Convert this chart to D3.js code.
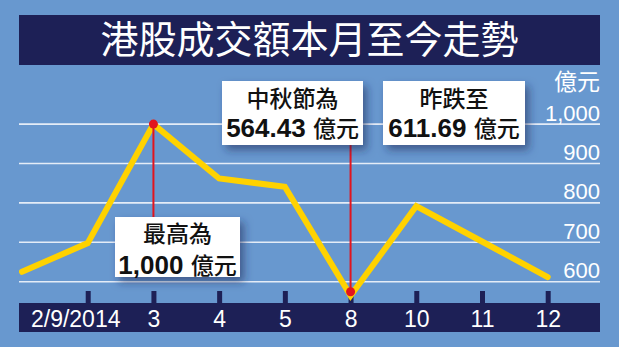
<!DOCTYPE html>
<html>
<head>
<meta charset="utf-8">
<script src="https://cdn.jsdelivr.net/npm/d3@7"></script>
<style>
  html, body { margin: 0; padding: 0; background: #6898cf; }
  svg { display: block; }
</style>
</head>
<body>
<svg id="chart" width="619" height="347"></svg>
<script>
// ---- data ----
const title = "港股成交額本月至今走勢";
const unitLabel = "億元";
const dates = ["1/9", "2/9/2014", "3", "4", "5", "8", "10", "11", "12"];
const tickLabels = ["", "2/9/2014", "3", "4", "5", "8", "10", "11", "12"];
const turnover = [625, 698, 1000, 862, 841, 564.43, 792, 702, 611.69];
const yTicks = [600, 700, 800, 900, 1000];
const yTickLabels = ["600", "700", "800", "900", "1,000"];
const noteTitles = ["最高為", "中秋節為", "昨跌至"];
const noteValues = ["1,000", "564.43", "611.69"];
const stemDates = ["3", "8"];

// ---- layout ----
const W = 619, H = 347;
const left = 19, right = 600;
const cjk = "'Noto Sans CJK TC', 'Noto Sans CJK SC', sans-serif";
const latin = "'Liberation Sans', Arial, sans-serif";
const navy = "#1d2056";
const svg = d3.select("#chart");

const x = d3.scalePoint().domain(dates).range([22, 547.7]).padding(0);
const y = d3.scaleLinear().domain([600, 1000]).range([281.7, 124.1]);

const defs = svg.append("defs");
defs.append("clipPath").attr("id", "plotClip")
  .append("rect").attr("x", left).attr("y", 0).attr("width", right - left).attr("height", H);
const f = defs.append("filter").attr("id", "shadow")
  .attr("x", "-20%").attr("y", "-30%").attr("width", "150%").attr("height", "170%");
f.append("feDropShadow").attr("dx", 4).attr("dy", 5).attr("stdDeviation", 4)
  .attr("flood-color", "#1b2c55").attr("flood-opacity", 0.55);

// background
svg.append("rect").attr("width", W).attr("height", H).attr("fill", "#6898cf");

// title bar
svg.append("rect").attr("x", left).attr("y", 15).attr("width", right - left).attr("height", 50)
  .attr("fill", navy);
svg.append("text").attr("x", (left + right) / 2).attr("y", 53)
  .attr("text-anchor", "middle").attr("fill", "#fff")
  .style("font-family", cjk).style("font-size", "38px")
  .text(title);

// gridlines
svg.append("g").selectAll("line").data(yTicks).join("line")
  .attr("x1", left).attr("x2", right)
  .attr("y1", d => y(d)).attr("y2", d => y(d))
  .attr("stroke", "#e4ecf7").attr("stroke-width", 1.6);

// y axis labels
const yAxis = d3.axisLeft(y).tickValues(yTicks)
  .tickFormat((d, i) => yTickLabels[i]).tickSize(0).tickPadding(0);
const gy = svg.append("g").attr("transform", `translate(${right},0)`).call(yAxis);
gy.select(".domain").remove();
gy.selectAll("text").attr("fill", "#fff").attr("dy", "-4px")
  .style("font-family", latin).style("font-size", "22px");
svg.append("text").attr("x", right).attr("y", 90).attr("text-anchor", "end")
  .attr("fill", "#fff").style("font-family", cjk).style("font-size", "23px").text(unitLabel);

// bottom bar
svg.append("rect").attr("x", left).attr("y", 303).attr("width", right - left).attr("height", 29)
  .attr("fill", navy);
// tick marks
const xTickAxis = d3.axisTop(x).tickValues(dates.slice(1)).tickSize(12).tickFormat("");
const gxt = svg.append("g").attr("transform", "translate(0,303)").call(xTickAxis);
gxt.select(".domain").remove();
gxt.selectAll("line").attr("stroke", navy).attr("stroke-width", 5);
// tick labels
const xAxis = d3.axisBottom(x).tickValues(dates.slice(1))
  .tickFormat(d => tickLabels[dates.indexOf(d)]).tickSize(0).tickPadding(0);
const gx = svg.append("g").attr("transform", "translate(0,303)").call(xAxis);
gx.select(".domain").remove();
gx.selectAll("text").attr("fill", "#fff").attr("dy", null).attr("y", 23.5)
  .style("font-family", latin).style("font-size", "23px")
  .attr("dx", (d, i) => i === 0 ? -12.5 : 0);

// line
const line = d3.line().x((d, i) => x(dates[i])).y(d => y(d));
svg.append("path").datum(turnover)
  .attr("clip-path", "url(#plotClip)")
  .attr("d", line).attr("fill", "none")
  .attr("stroke", "#ffd200").attr("stroke-width", 6)
  .attr("stroke-linejoin", "miter").attr("stroke-linecap", "round");

// annotation boxes
const boxes = [
  { x: 115, y: 217, w: 125, h: 60 },
  { x: 222, y: 81, w: 141, h: 64 },
  { x: 383, y: 81, w: 142, h: 64 }
];

// red stems + dots
const stemEnds = [boxes[0].y, boxes[1].y + boxes[1].h];
stemDates.forEach((d, i) => {
  const v = turnover[dates.indexOf(d)];
  svg.append("line").attr("x1", x(d)).attr("x2", x(d))
    .attr("y1", y(v)).attr("y2", stemEnds[i])
    .attr("stroke", "#e2141e").attr("stroke-width", 2);
});
svg.append("g").selectAll("circle").data(stemDates).join("circle")
  .attr("cx", d => x(d)).attr("cy", d => y(turnover[dates.indexOf(d)]) - (d === "8" ? 4 : 0))
  .attr("r", 4.5).attr("fill", "#e2141e");

boxes.forEach((b, i) => {
  svg.append("rect").attr("x", b.x).attr("y", b.y).attr("width", b.w).attr("height", b.h)
    .attr("fill", "#fff").attr("filter", "url(#shadow)");
  const cx = b.x + b.w / 2;
  svg.append("text").attr("x", cx).attr("y", b.y + (i === 0 ? 25 : 26))
    .attr("text-anchor", "middle").attr("fill", "#111")
    .style("font-family", cjk).style("font-size", "23px").style("font-weight", 500)
    .text(noteTitles[i]);
  const t = svg.append("text").attr("x", cx).attr("y", b.y + (i === 0 ? 57 : 55.5))
    .attr("text-anchor", "middle").attr("fill", "#111");
  t.append("tspan").style("font-family", latin).style("font-size", "26px")
    .style("font-weight", "bold").text(noteValues[i] + " ");
  t.append("tspan").style("font-family", cjk).style("font-size", "23px")
    .style("font-weight", 500).text(unitLabel);
});
</script>
</body>
</html>
